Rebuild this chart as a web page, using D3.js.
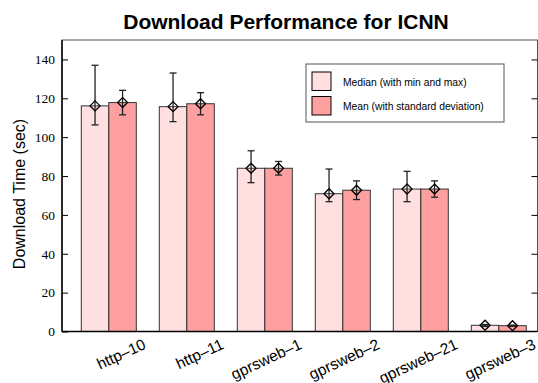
<!DOCTYPE html>
<html><head><meta charset="utf-8">
<script src="https://cdn.jsdelivr.net/npm/d3@7/dist/d3.min.js"></script>
<style>body{margin:0;background:#fff}svg{display:block}</style>
</head><body>
<script>
const categories = ["http–10","http–11","gprsweb–1","gprsweb–2","gprsweb–21","gprsweb–3"];
const medianVals = [116.1, 115.7, 84.0, 70.9, 73.3, 3.2];
const medianMin  = [106.3, 108.0, 76.6, 66.8, 66.8, 2.6];
const medianMax  = [137.0, 133.0, 93.0, 83.6, 82.4, 3.6];
const meanVals   = [117.8, 117.2, 84.0, 72.7, 73.3, 3.0];
const meanSd     = [6.3, 5.7, 3.5, 4.8, 4.2, 0.3];
const yTicks = [0, 20, 40, 60, 80, 100, 120, 140];
const legendLabels = ["Median (with min and max)", "Mean (with standard deviation)"];
const colors = ["#ffdfdf", "#ffa0a0"];

const W = 538, H = 383;
const svg = d3.select("body").append("svg").attr("width", W).attr("height", H);
const L = 62, R = 537.5, T = 40, B = 331.5;
const x = d3.scaleLinear().domain([-0.6, 5.5]).range([L, 537.8]);
const y = d3.scaleLinear().domain([0, 150]).range([B, T]);
const bw = x(0.3526) - x(0);
const SANS = "'Liberation Sans', Arial, sans-serif";
const SERIF = "'Liberation Serif', 'Times New Roman', serif";

// title
svg.append("text").attr("x", 286).attr("y", 29).attr("text-anchor", "middle")
  .style("font-family", SANS).style("font-weight", "bold")
  .style("font-size", "21px").text("Download Performance for ICNN");

// frame
svg.append("rect").attr("x", L).attr("y", T).attr("width", R - L).attr("height", B - T)
  .attr("fill", "none").attr("stroke", "#555").attr("stroke-width", 1);

// bars
const g = svg.append("g");
categories.forEach((c, i) => {
  const cx = x(i);
  g.append("rect").attr("x", cx - bw).attr("y", y(medianVals[i])).attr("width", bw)
    .attr("height", y(0) - y(medianVals[i])).attr("fill", colors[0]).attr("stroke", "#333").attr("stroke-width", 1);
  g.append("rect").attr("x", cx).attr("y", y(meanVals[i])).attr("width", bw)
    .attr("height", y(0) - y(meanVals[i])).attr("fill", colors[1]).attr("stroke", "#333").attr("stroke-width", 1);
});

// error bars + diamonds
function errBar(cx, lo, hi, v) {
  const cap = 3.5;
  g.append("line").attr("x1", cx).attr("x2", cx).attr("y1", y(lo)).attr("y2", y(hi))
    .attr("stroke", "#222").attr("stroke-width", 1.3);
  [lo, hi].forEach(t => g.append("line").attr("x1", cx - cap).attr("x2", cx + cap)
    .attr("y1", y(t)).attr("y2", y(t)).attr("stroke", "#222").attr("stroke-width", 1.3));
  const d = 5, py = y(v);
  g.append("path").attr("d", `M${cx},${py - d}L${cx + d},${py}L${cx},${py + d}L${cx - d},${py}Z`)
    .attr("fill", "none").attr("stroke", "#000").attr("stroke-width", 1.3);
}
categories.forEach((c, i) => {
  const cx = x(i);
  errBar(cx - bw / 2, medianMin[i], medianMax[i], medianVals[i]);
  errBar(cx + bw / 2, meanVals[i] - meanSd[i], meanVals[i] + meanSd[i], meanVals[i]);
});

// axes lines
svg.append("line").attr("x1", L).attr("x2", L).attr("y1", T).attr("y2", B).attr("stroke", "#000").attr("stroke-width", 1.5);
svg.append("line").attr("x1", L).attr("x2", R).attr("y1", B).attr("y2", B).attr("stroke", "#000").attr("stroke-width", 1.5);

// y ticks (inward, both sides)
const leftAxis = d3.axisLeft(y).tickValues(yTicks).tickSize(-6).tickPadding(7).tickFormat(d3.format("d"));
const ga = svg.append("g").attr("transform", `translate(${L},0)`).call(leftAxis);
ga.select(".domain").remove();
ga.selectAll("line").attr("stroke", "#000");
ga.selectAll("text").style("font-family", SERIF).style("font-size", "13.5px").attr("fill", "#000");
const rightAxis = d3.axisRight(y).tickValues(yTicks.filter(v => v > 0)).tickSize(-6).tickFormat("");
const gr = svg.append("g").attr("transform", `translate(${R},0)`).call(rightAxis);
gr.select(".domain").remove();
gr.selectAll("line").attr("stroke", "#000");

// y title
svg.append("text").attr("transform", `translate(25,194) rotate(-90)`).attr("text-anchor", "middle")
  .style("font-family", SANS).style("font-size", "16px").text("Download Time (sec)");

// x labels
categories.forEach((c, i) => {
  svg.append("text").attr("transform", `translate(${x(i) + 38},348) rotate(-25)`).attr("text-anchor", "end")
    .style("font-family", SANS).style("font-size", "15.5px").text(c);
});

// legend
const lg = svg.append("g");
lg.append("rect").attr("x", 306).attr("y", 64).attr("width", 198).attr("height", 58)
  .attr("fill", "#fff").attr("stroke", "#555").attr("stroke-width", 1);
legendLabels.forEach((t, i) => {
  lg.append("rect").attr("x", 312).attr("y", 72 + i * 24.5).attr("width", 19).attr("height", 18.5)
    .attr("fill", colors[i]).attr("stroke", "#000").attr("stroke-width", 1);
  lg.append("text").attr("x", 343).attr("y", 85.5 + i * 24.5)
    .style("font-family", SANS).style("font-size", "10.3px").text(t);
});
</script>
</body></html>
